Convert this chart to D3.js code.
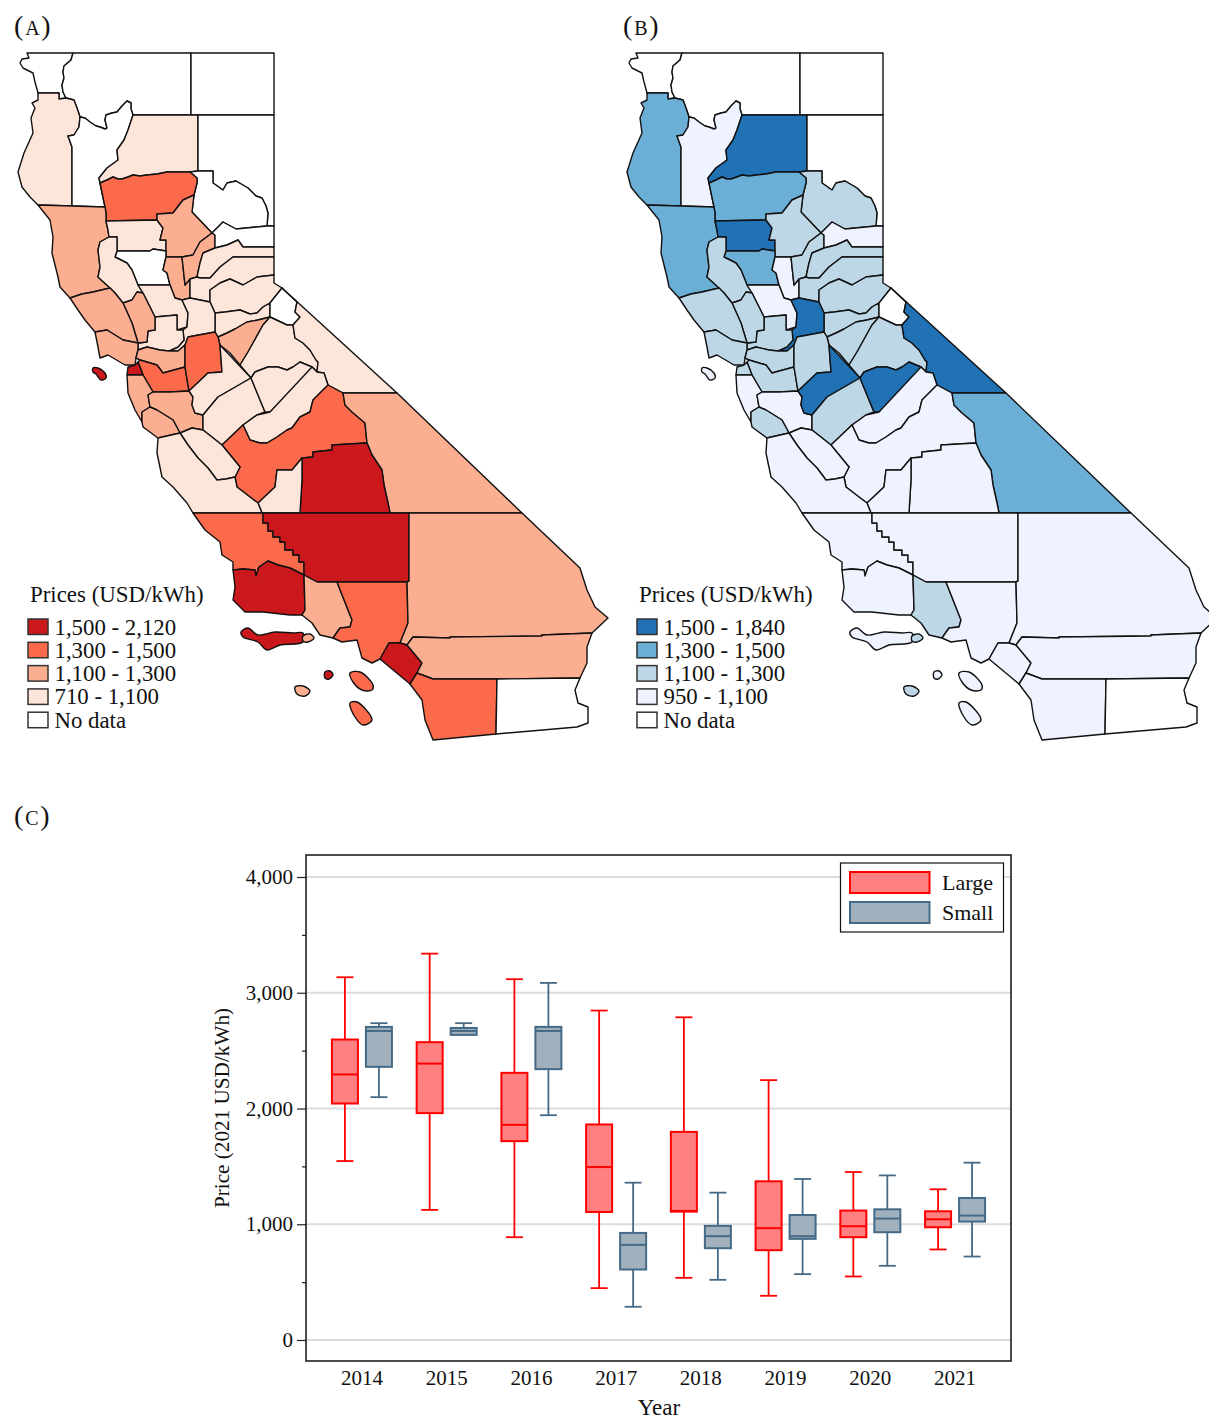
<!DOCTYPE html>
<html>
<head>
<meta charset="utf-8">
<script src="https://cdnjs.cloudflare.com/ajax/libs/d3/7.8.5/d3.min.js"></script>
<style>
  body { margin: 0; background: #fff; }
  text { font-family: "Liberation Serif", serif; fill: #111; }
</style>
</head>
<body>
<svg id="figure" width="1209" height="1419"></svg>
<script>
// price bins for the two maps
const priceBreaks = [1100, 1300, 1500];
const redBins = ['#fee5d9', '#fcae91', '#fb6a4a', '#cb181d'];
const blueBins = ['#eff3ff', '#bdd7e7', '#6baed6', '#2171b5'];
const largeLegend = ['1,500 - 2,120', '1,300 - 1,500', '1,100 - 1,300', '710 - 1,100', 'No data'];
const smallLegend = ['1,500 - 1,840', '1,300 - 1,500', '1,100 - 1,300', '950 - 1,100', 'No data'];

// county prices by bin, read from the map colours (null = no data)
const countyNames = ['Del Norte', 'Siskiyou', 'Modoc', 'Humboldt', 'Trinity', 'Shasta', 'Lassen', 'Plumas', 'Tehama',
  'Mendocino', 'Glenn', 'Butte', 'Colusa', 'Lake', 'Sutter', 'Yuba', 'Sierra', 'Nevada', 'Placer', 'El Dorado',
  'Amador', 'Alpine', 'Calaveras', 'Tuolumne', 'Mono', 'Yolo', 'Sacramento', 'Solano', 'Napa', 'Sonoma', 'Marin',
  'Contra Costa', 'Alameda', 'San Francisco', 'San Mateo', 'Santa Clara', 'Santa Cruz', 'San Joaquin', 'Stanislaus',
  'Merced', 'Mariposa', 'Madera', 'Fresno', 'Inyo', 'Tulare', 'Kings', 'San Benito', 'Monterey', 'San Luis Obispo',
  'Kern', 'Santa Barbara', 'Ventura', 'Los Angeles', 'San Bernardino', 'Orange', 'Riverside', 'San Diego', 'Imperial'];
const largePrices = [null, null, null, 950, null, 1000, null, null, 1400,
  1200, 1000, 1200, null, 1000, 1200, 1200, null, 1000, 1000, 1000,
  1000, null, 1200, 1000, 1000, 1000, 1000, 1000, 1200, 1200, 1200,
  1200, 1400, 1700, 1200, 1200, 1200, 1400, 1000,
  1000, 1000, 1000, 1400, 1200, 1700, 1000, 1000, 1000, 1400,
  1700, 1700, 1200, 1400, 1200, 1700, 1200, 1400, null];
const smallPrices = [null, null, null, 1400, 1000, 1600, null, 1200, 1400,
  1400, 1600, 1200, 1400, 1200, 1000, 1200, 1000, 1200, 1200, 1200,
  1200, null, 1200, 1200, 1600, 1000, 1600, 1200, 1200, 1200, 1200,
  1200, 1200, 1200, 1000, 1000, 1200, 1200, 1600,
  1200, 1600, 1000, 1000, 1400, 1000, 1000, 1000, 1000, 1000,
  1000, 1000, 1200, 1000, 1000, 1000, 1000, 1000, null];

// islands, each belongs to a county's price
const islandNames = ['Farallon', 'Channel', 'Anacapa', 'Santa Barbara Is.', 'Catalina', 'San Nicolas', 'San Clemente'];
const islandLarge = [1700, 1700, 1200, 1700, 1400, 1200, 1400];
const islandSmall = [1000, 1000, 1200, 1000, 1000, 1200, 1000];

// boxplot values
const years = ['2014', '2015', '2016', '2017', '2018', '2019', '2020', '2021'];
const largeLow = [1546, 1124, 888, 448, 537, 382, 549, 782];
const largeQ1 = [2043, 1960, 1718, 1106, 1109, 776, 888, 974];
const largeMedian = [2294, 2388, 1859, 1494, 1115, 966, 983, 1043];
const largeQ3 = [2596, 2573, 2308, 1862, 1798, 1371, 1118, 1112];
const largeHigh = [3134, 3338, 3117, 2846, 2788, 2245, 1451, 1302];
const smallLow = [2098, 2636, 1942, 287, 520, 569, 641, 721];
const smallQ1 = [2360, 2636, 2340, 609, 793, 874, 931, 1023];
const smallMedian = [2670, 2670, 2670, 822, 897, 897, 1049, 1075];
const smallQ3 = [2705, 2696, 2705, 925, 986, 1080, 1129, 1227];
const smallHigh = [2737, 2737, 3085, 1359, 1273, 1391, 1422, 1532];
const yTicks = [0, 1000, 2000, 3000, 4000];
const yMinorTicks = [500, 1500, 2500, 3500];

// shared borders so neighbouring counties line up
const rev = a => [...a].reverse();
const delNorteEdge = [[73,53],[71,60],[64,66],[63,72],[64,78],[62,85],[63,92],[66,98]];
const trinityTop = [[80,117],[85,118],[90,122],[96,126],[100,127],[105,129],[107,128],[105,120],[106,115],[112,113],[117,112],[122,106],[127,101],[131,103],[131,109],[133,115]];
const humboldtEast = [[74,100],[77,108],[80,117],[79,127],[74,135],[68,136],[72,147],[72,206]];
const shastaWest = [[133,115],[128,130],[124,140],[117,150],[118,160],[107,168],[99,178],[100,183]];
const shastaBottom = [[100,183],[107,180],[113,177],[118,179],[122,179],[128,177],[133,175],[140,176],[147,175],[157,174],[167,172],[178,172],[190,172]];
const lassenEdge = [[198,171],[213,171],[213,183],[223,190],[227,183],[236,181],[248,188],[256,196],[262,198],[266,206],[268,213],[267,226]];
const plumasWest = [[190,172],[197,178],[197,183],[194,195]];
const tehamaButte = [[194,195],[183,200],[173,213],[157,214],[157,220]];
const butteEast = [[194,195],[192,212],[212,233]];
const butteSouth = [[166,251],[166,257],[182,257],[193,255],[200,242],[212,233]];
const glennEast = [[157,220],[163,228],[160,240],[166,240],[166,251]];
const colusaTop = [[117,251],[150,251],[153,249],[166,251]];
const lakeEast = [[117,237],[117,251],[115,257],[127,263],[132,270],[138,285],[143,293]];
const lakeWest = [[100,242],[98,250],[100,267],[98,277],[110,288]];
const sierraBottom = [[274,247],[243,247],[238,240],[227,245],[215,248]];
const yubaSouth = [[215,248],[203,253],[200,263],[197,277],[190,279],[185,285]];
const placerBottom = [[190,298],[210,302],[210,290],[220,283],[230,279],[243,285],[250,281],[257,277],[274,275]];
const eldoradoBottom = [[215,313],[225,312],[240,310],[250,314],[257,313],[263,307],[270,303]];
const amadorBottom = [[218,337],[227,333],[235,329],[247,322],[258,320],[270,317]];
const tuolumneBottom = [[251,378],[255,372],[268,367],[278,367],[287,370],[293,367],[300,362],[312,367],[317,372]];
const monoWest = [[297,302],[295,312],[300,317],[293,325],[295,338],[303,343],[310,350],[316,360],[318,362],[317,372]];
const madera = [[317,372],[324,373],[328,385]];
const maderaBottom = [[328,385],[313,400],[310,412],[300,417],[292,428],[287,430],[277,437],[267,443],[260,443],[250,440],[243,425]];
const fresnoEast = [[343,393],[345,405],[352,412],[365,423],[367,443]];
const tulareEast = [[367,443],[372,455],[382,470],[384,485],[388,503],[390,513]];
const tulareTop = [[302,458],[313,457],[313,452],[332,450],[332,445],[367,443]];
const kingsNorth = [[258,503],[275,487],[277,470],[292,470],[302,458]];
const sacSouth = [[215,332],[188,337],[185,345],[178,351],[169,351]];
const kernStairs = [[263,513],[263,523],[268,523],[268,531],[273,531],[273,537],[280,537],[280,542],[285,542],[285,550],[293,550],[293,555],[299,555],[299,562],[304,562],[304,575]];
const sbTop = [[233,570],[243,569],[255,570],[256,576],[259,567],[268,561],[278,565],[290,568],[304,575]];
const laWest = [[337,582],[352,620],[350,627],[340,628],[333,638]];
const riverTop = [[592,633],[542,635],[542,636],[450,637],[450,638],[413,637]];

const countyOutlines = [
  [[27,53], ...delNorteEdge, [59,99],[59,93],[38,93],[35,82],[33,73],[23,68],[20,63],[22,59],[29,58]],
  [...delNorteEdge, ...humboldtEast.slice(0, 3), ...trinityTop, [191,115],[191,53]],
  [[191,53],[274,53],[274,115],[191,115]],
  [[38,93],[59,93],[59,99],[66,98], ...humboldtEast, [38,205],[30,197],[22,187],[18,172],[24,153],[33,133],[31,118],[35,108],[32,103],[38,100]],
  [...trinityTop, ...shastaWest, [105,207], [72,206], ...rev(humboldtEast.slice(3, 7))],
  [[133,115],[198,115],[198,171], ...rev(shastaBottom), ...rev(shastaWest).slice(1)],
  [[198,115],[274,115],[274,226], ...rev(lassenEdge)],
  [[190,172], ...lassenEdge, [236,229],[223,222],[212,233], ...rev(butteEast).slice(1), ...rev(plumasWest).slice(1)],
  [...shastaBottom, ...plumasWest, ...tehamaButte.slice(1), [106,221],[106,213],[105,207]],
  [[38,205],[72,206],[105,207],[106,213],[106,221],[108,230],[109,237],[100,242], ...lakeWest.slice(1), [93,292],[82,294],[70,298],[60,287],[58,277],[52,253],[53,237],[50,220]],
  [[106,221], ...glennEast, ...rev(colusaTop).slice(1), [117,237],[109,237],[108,230]],
  [...tehamaButte, ...glennEast.slice(1), ...butteSouth.slice(1), ...rev(butteEast).slice(1, 2)],
  [[115,257], ...colusaTop, [166,257],[163,270],[167,273],[170,285],[138,285],[132,270],[127,263]],
  [...lakeEast, [137,292],[132,300],[123,303],[115,293], ...rev(lakeWest), [109,237]],
  [[166,257],[182,257],[185,285],[190,279],[190,298],[182,300],[175,298],[170,285],[167,273],[163,270]],
  [[182,257],[193,255],[200,242],[212,233],[215,235], ...yubaSouth],
  [[212,233],[223,222],[236,229],[267,226],[274,226], ...sierraBottom, [215,235]],
  [...rev(yubaSouth).slice(2), ...rev(sierraBottom).slice(1), [274,257],[233,257],[220,267],[210,278],[200,278]],
  [[190,279],[197,277],[200,278],[210,278],[220,267],[233,257],[274,257], ...rev(placerBottom)],
  [...placerBottom.slice(1),[274,283],[282,288], ...rev(eldoradoBottom)],
  [...eldoradoBottom, ...rev(amadorBottom), [215,332]],
  [[270,303],[282,288],[297,302],[295,312],[300,317],[293,325],[287,325],[270,317]],
  [...amadorBottom, [263,325],[248,352],[240,365],[230,353],[220,345]],
  [[263,325],[270,317],[287,325],[293,325], ...monoWest.slice(4), ...rev(tuolumneBottom).slice(1), [240,365],[248,352]],
  [[282,288],[397,393],[343,393],[328,385], ...rev(madera).slice(1), ...rev(monoWest)],
  [[138,285],[170,285],[175,298],[182,300],[188,313],[187,327],[177,330],[177,315],[155,317],[153,313],[143,293]],
  [[182,300],[190,298],[210,302],[215,313], ...sacSouth, [178,347],[184,340],[183,330],[187,327],[188,313]],
  [[155,317],[177,315],[177,330],[183,330],[184,340],[178,347],[169,351],[160,350],[147,347],[138,350],[138,343],[147,342],[148,331],[155,330]],
  [[123,303],[132,300],[137,292],[143,293],[153,313],[155,317],[155,330],[148,331],[147,342],[138,343],[132,323]],
  [[70,298],[82,294],[93,292],[110,288],[115,293],[123,303],[132,323],[138,343],[123,340],[107,330],[95,332],[85,320],[78,310]],
  [[95,332],[107,330],[123,340],[138,343],[138,350],[136,358],[135,365],[125,365],[108,355],[100,358],[98,347]],
  [[138,350],[147,347],[160,350],[169,351],[178,351],[185,345],[185,367],[163,373],[157,365],[140,360],[136,358]],
  [[138,362],[140,360],[157,365],[163,373],[185,367],[189,391],[170,392],[157,392],[153,392],[143,375]],
  [[127,375],[128,367],[135,365],[138,362],[143,375]],
  [[127,375],[143,375],[153,392],[148,395],[150,407],[142,412],[142,422],[135,410],[128,393]],
  [[148,395],[153,392],[157,392],[170,392],[189,391],[193,397],[192,405],[195,413],[203,415],[203,430],[192,428],[180,433],[173,420],[157,410],[150,407]],
  [[142,412],[150,407],[157,410],[173,420],[180,433],[158,438],[143,427],[142,422]],
  [[188,337],[215,332],[218,337],[220,345],[222,372],[208,373],[189,391],[185,367],[185,345]],
  [[189,391],[208,373],[222,372],[220,345],[251,378],[218,397],[203,415],[195,413],[192,405],[193,397]],
  [[251,378],[265,412],[257,415],[243,425],[222,445],[203,430],[203,415],[218,397]],
  [...tuolumneBottom, [270,412],[265,412]],
  [...madera, ...maderaBottom.slice(1), [257,415],[270,412],[312,367]],
  [...rev(maderaBottom), ...fresnoEast, ...rev(tulareTop).slice(1), ...rev(kingsNorth).slice(1), [250,497],[237,487],[235,477],[240,467],[222,445]],
  [[343,393],[397,393],[522,513],[390,513], ...rev(tulareEast).slice(1), ...rev(fresnoEast).slice(1)],
  [...tulareTop, ...tulareEast.slice(1), [300,513],[302,480]],
  [...kingsNorth, [302,480],[300,513],[262,513]],
  [[180,433],[192,428],[203,430],[222,445],[240,467],[235,477],[226,479],[217,480],[208,468],[198,458],[188,445]],
  [[158,438],[180,433],[188,445],[198,458],[208,468],[217,480],[226,479],[235,477],[237,487],[250,497],[258,503],[262,513],[193,513],[187,503],[173,487],[162,477],[157,453]],
  [[193,513], ...kernStairs, ...rev(sbTop).slice(1), [233,562],[222,555],[220,542],[205,530]],
  [...kernStairs, [317,582],[337,582],[407,582],[409,581],[409,513]],
  [...sbTop, [305,610],[302,615],[290,615],[263,612],[245,612],[233,600],[235,587]],
  [[304,575],[317,582], ...laWest, [320,635],[312,623],[302,615],[305,610]],
  [...laWest, [342,642],[357,640],[362,658],[372,663],[380,659],[389,643],[400,643],[408,623],[407,582]],
  [[409,513],[522,513],[580,568],[587,590],[595,607],[608,618], ...riverTop, [407,645],[400,643],[408,623],[407,582],[409,581]],
  [[389,643],[400,643],[407,645],[422,663],[417,673],[410,684],[380,659]],
  [[407,645],[413,637], ...rev(riverTop).slice(1), [587,647],[587,663],[580,678],[497,679],[433,679],[417,673],[422,663]],
  [[410,684],[417,673],[433,679],[497,679],[496,734],[433,740],[425,720],[422,700]],
  [[497,679],[580,678],[575,690],[578,703],[588,707],[588,723],[577,727],[496,734]]
];

const islandOutlines = [
  [[93,368],[98,368],[105,373],[106,378],[101,380],[96,374],[93,372]],
  [[241,632],[248,628],[258,635],[275,632],[293,633],[303,633],[303,642],[280,645],[267,650],[258,642],[243,637]],
  [[303,636],[310,634],[314,638],[308,642],[303,641]],
  [[325,672],[330,671],[333,675],[329,679],[325,678]],
  [[350,673],[360,672],[373,685],[372,690],[362,690],[353,682]],
  [[295,687],[303,686],[310,691],[305,696],[297,694]],
  [[350,703],[357,702],[372,720],[363,725],[355,717]]
];

const svg = d3.select('#figure');

// map outlines were read in panel A pixels, panel B is the same shape further right
function drawMap (offset, prices, islands, bins, legendLabels) {
  const mapX = d3.scaleLinear().domain([0, 1209]).range([offset, offset + 1209]);
  const mapY = d3.scaleLinear().domain([0, 1419]).range([0, 1419]);
  const color = d3.scaleThreshold().domain(priceBreaks).range(bins);
  const fill = v => v === null ? '#fff' : color(v);
  const line = d3.line().x(d => mapX(d[0])).y(d => mapY(d[1])).curve(d3.curveLinearClosed);
  const blob = d3.line().x(d => mapX(d[0])).y(d => mapY(d[1])).curve(d3.curveCatmullRomClosed);

  const g = svg.append('g');
  g.selectAll('.county')
    .data(countyNames)
    .join('path')
      .attr('class', 'county')
      .attr('d', (d, i) => line(countyOutlines[i]))
      .attr('fill', (d, i) => fill(prices[i]))
      .attr('stroke', '#111')
      .attr('stroke-width', 1.4)
      .attr('stroke-linejoin', 'round');
  g.selectAll('.island')
    .data(islandNames)
    .join('path')
      .attr('class', 'island')
      .attr('d', (d, i) => blob(islandOutlines[i]))
      .attr('fill', (d, i) => fill(islands[i]))
      .attr('stroke', '#111')
      .attr('stroke-width', 1.4);

  g.append('text')
    .attr('x', mapX(30)).attr('y', 602)
    .style('font-size', '22.9px')
    .text('Prices (USD/kWh)');

  const swatches = [...bins].reverse().concat('#fff');
  const item = g.selectAll('.key')
    .data(legendLabels)
    .join('g')
      .attr('class', 'key')
      .attr('transform', (d, i) => `translate(${mapX(28)},${619 + i * 23.3})`);
  item.append('rect')
    .attr('width', 20).attr('height', 15.5)
    .attr('fill', (d, i) => swatches[i])
    .attr('stroke', '#333')
    .attr('stroke-width', 1.5);
  item.append('text')
    .attr('x', 26.5).attr('y', 15.5)
    .style('font-size', '22.8px')
    .text(d => d);
}

drawMap(0, largePrices, islandLarge, redBins, largeLegend);
drawMap(609, smallPrices, islandSmall, blueBins, smallLegend);

// boxplot panel
const frame = {left: 306, right: 1011, top: 855, bottom: 1361};
const y = d3.scaleLinear().domain([-181.4, 4190]).range([frame.bottom, frame.top]);
const x = d3.scaleBand().domain(years).range([frame.left, frame.right]).paddingInner(0).paddingOuter(0.16);

const plot = svg.append('g');

plot.selectAll('.grid')
  .data(yTicks)
  .join('line')
    .attr('class', 'grid')
    .attr('x1', frame.left).attr('x2', frame.right)
    .attr('y1', d => y(d)).attr('y2', d => y(d))
    .attr('stroke', '#dcdcdc')
    .attr('stroke-width', 2);

const series = [
  {name: 'Large', shift: -17, stroke: '#ff0000', fill: '#ff8080', low: largeLow, q1: largeQ1, med: largeMedian, q3: largeQ3, high: largeHigh},
  {name: 'Small', shift: 17, stroke: '#446a87', fill: '#a0b1bd', low: smallLow, q1: smallQ1, med: smallMedian, q3: smallQ3, high: smallHigh}
];

series.forEach(s => {
  const box = plot.selectAll(`.box-${s.name}`)
    .data(years)
    .join('g')
      .attr('class', `box-${s.name}`)
      .attr('transform', d => `translate(${x(d) + x.bandwidth() / 2 + s.shift},0)`);

  // whisker stem and caps
  box.append('line')
    .attr('y1', (d, i) => y(s.low[i])).attr('y2', (d, i) => y(s.high[i]))
    .attr('stroke', s.stroke).attr('stroke-width', 1.8);
  [s.low, s.high].forEach(vals => {
    box.filter((d, i) => vals !== s.low || s.low[i] < s.q1[i])
      .append('line')
      .attr('x1', -8.5).attr('x2', 8.5)
      .attr('y1', d => y(vals[years.indexOf(d)])).attr('y2', d => y(vals[years.indexOf(d)]))
      .attr('stroke', s.stroke).attr('stroke-width', 1.8);
  });
  box.append('rect')
    .attr('x', -13).attr('width', 26)
    .attr('y', (d, i) => y(s.q3[i]))
    .attr('height', (d, i) => y(s.q1[i]) - y(s.q3[i]))
    .attr('fill', s.fill)
    .attr('stroke', s.stroke)
    .attr('stroke-width', 2);
  box.append('line')
    .attr('x1', -13).attr('x2', 13)
    .attr('y1', (d, i) => y(s.med[i])).attr('y2', (d, i) => y(s.med[i]))
    .attr('stroke', s.stroke).attr('stroke-width', 2);
});

// axes, stata style: y ticks with minor ones, x labels only
const yAxis = d3.axisLeft(y).tickValues(yTicks).tickSize(9).tickPadding(4).tickFormat(d3.format(','));
const yAxisG = plot.append('g').attr('transform', `translate(${frame.left},0)`).call(yAxis);
yAxisG.select('.domain').remove();
yAxisG.selectAll('line').attr('stroke', '#222').attr('stroke-width', 1.2);
yAxisG.selectAll('text').style('font-size', '21px').attr('fill', '#111');

const yMinor = plot.append('g').attr('transform', `translate(${frame.left},0)`)
  .call(d3.axisLeft(y).tickValues(yMinorTicks).tickSize(4).tickFormat(''));
yMinor.select('.domain').remove();
yMinor.selectAll('line').attr('stroke', '#222').attr('stroke-width', 1.2);

const xAxis = d3.axisBottom(x).tickSize(0).tickPadding(9);
const xAxisG = plot.append('g').attr('transform', `translate(0,${frame.bottom})`).call(xAxis);
xAxisG.select('.domain').remove();
xAxisG.selectAll('text').style('font-size', '21px').attr('fill', '#111');

plot.append('rect')
  .attr('x', frame.left).attr('y', frame.top)
  .attr('width', frame.right - frame.left).attr('height', frame.bottom - frame.top)
  .attr('fill', 'none').attr('stroke', '#111').attr('stroke-width', 1.5);

plot.append('text')
  .attr('x', 659).attr('y', 1415)
  .attr('text-anchor', 'middle')
  .style('font-size', '23px')
  .text('Year');
plot.append('text')
  .attr('transform', 'translate(229,1108) rotate(-90)')
  .attr('text-anchor', 'middle')
  .style('font-size', '21.2px')
  .text('Price (2021 USD/kWh)');

// legend box
const keyBox = plot.append('g');
keyBox.append('rect')
  .attr('x', 840.5).attr('y', 863).attr('width', 163).attr('height', 69)
  .attr('fill', '#fff').attr('stroke', '#111').attr('stroke-width', 1.2);
series.forEach((s, i) => {
  keyBox.append('rect')
    .attr('x', 850).attr('y', 872 + i * 30).attr('width', 79.5).attr('height', 21)
    .attr('fill', s.fill).attr('stroke', s.stroke).attr('stroke-width', 2);
  keyBox.append('text')
    .attr('x', 942).attr('y', 890 + i * 29.6)
    .style('font-size', '22px')
    .text(s.name);
});

// panel letters, tall brackets round a smaller capital
const panelLetters = ['A', 'B', 'C'];
const panelLabel = svg.selectAll('.panel')
  .data(panelLetters)
  .join('text')
    .attr('class', 'panel')
    .attr('x', (d, i) => [14, 623, 14][i])
    .attr('y', (d, i) => [35, 35, 825][i])
    .style('font-size', '28px');
panelLabel.append('tspan').text('(');
panelLabel.append('tspan').attr('dx', 2).style('font-size', '20px').text(d => d);
panelLabel.append('tspan').attr('dx', 1.5).text(')');
</script>
</body>
</html>
